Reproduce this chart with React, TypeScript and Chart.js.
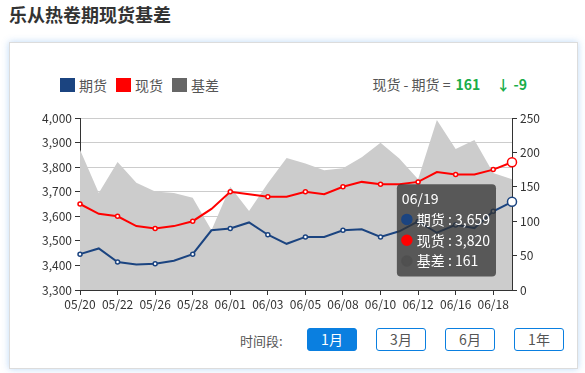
import React, { useEffect, useRef } from 'react';
import { Chart, registerables, Tooltip } from 'chart.js';

Chart.register(...registerables);

const dates = ['05/20','05/21','05/22','05/23','05/26','05/27','05/28','05/29','06/01','06/02','06/03','06/04','06/05','06/06','06/08','06/09','06/10','06/11','06/12','06/13','06/16','06/17','06/18','06/19'];
const futures = [3446,3469,3414,3404,3407,3419,3446,3543,3550,3575,3525,3488,3516,3516,3543,3547,3516,3539,3579,3533,3565,3552,3620,3659];
const spot = [3650,3610,3600,3560,3550,3560,3580,3630,3700,3690,3680,3680,3700,3690,3720,3740,3730,3730,3740,3780,3770,3770,3790,3820];
const basis = [204,141,186,156,143,141,134,87,150,115,155,192,184,174,177,193,214,191,161,247,205,218,170,161];
const periods = ['1月', '3月', '6月', '1年'];

const FUT_COLOR = '#1b4480';
const SPOT_COLOR = '#ff0000';
const BASIS_COLOR = '#666666';
const AREA_COLOR = '#cccccc';
const GREEN = '#19ad4a';
const FONT = "'Noto Sans CJK SC', 'Noto Sans', sans-serif";

(Tooltip.positioners as any).leftOfPoint = function (elements: any[]) {
  if (!elements.length) return false;
  const x = elements[0].element.x;
  let y = Infinity;
  elements.forEach((e: any) => { y = Math.min(y, e.element.y); });
  return { x: x - 20, y: y + 22 };
};

export default function App() {
  const ref = useRef<HTMLCanvasElement>(null);

  useEffect(() => {
    if (!ref.current) return;
    Chart.defaults.font.family = FONT;
    const fmt = (v: number) => Number(v).toLocaleString('en-US');
    const colors = [FUT_COLOR, SPOT_COLOR, '#505050'];
    const chart = new Chart(ref.current, {
      type: 'line',
      data: {
        labels: dates,
        datasets: [
          {
            label: '期货', data: futures, yAxisID: 'y',
            borderColor: FUT_COLOR, backgroundColor: FUT_COLOR, borderWidth: 2,
            pointRadius: (c: any) => (c.dataIndex % 2 === 0 ? 2 : 0),
            pointBackgroundColor: '#fff', pointBorderColor: FUT_COLOR, pointBorderWidth: 1.5,
            pointHoverRadius: 4.5, pointHoverBorderWidth: 1.5, pointHoverBackgroundColor: '#fff', pointHoverBorderColor: FUT_COLOR,
            tension: 0, clip: false, fill: false,
          } as any,
          {
            label: '现货', data: spot, yAxisID: 'y',
            borderColor: SPOT_COLOR, backgroundColor: SPOT_COLOR, borderWidth: 2,
            pointRadius: (c: any) => (c.dataIndex % 2 === 0 ? 2 : 0),
            pointBackgroundColor: '#fff', pointBorderColor: SPOT_COLOR, pointBorderWidth: 1.5,
            pointHoverRadius: 4.5, pointHoverBorderWidth: 1.5, pointHoverBackgroundColor: '#fff', pointHoverBorderColor: SPOT_COLOR,
            tension: 0, clip: false, fill: false,
          } as any,
          {
            label: '基差', data: basis, yAxisID: 'y1',
            borderColor: 'rgba(0,0,0,0)', backgroundColor: AREA_COLOR, borderWidth: 0,
            pointRadius: 0, pointHoverRadius: 0, tension: 0, fill: 'origin',
          } as any,
        ],
      },
      options: {
        animation: false,
        responsive: false,
        devicePixelRatio: 1,
        events: [],
        layout: { padding: { top: 13, left: 0, right: 0, bottom: 0 } },
        interaction: { mode: 'index', intersect: false },
        scales: {
          x: {
            type: 'category',
            grid: {
              drawOnChartArea: false, drawTicks: true, tickLength: 5,
              tickColor: (c: any) => (c.index % 2 === 0 ? '#333' : 'rgba(0,0,0,0)'),
            },
            border: { color: '#333', width: 1 },
            ticks: {
              autoSkip: false, maxRotation: 0, minRotation: 0, padding: 2, color: '#333',
              font: { size: 12 },
              callback: (_v: any, i: number) => (i % 2 === 0 ? dates[i] : ''),
            },
            afterFit: (s: any) => { s.height = 25; },
          },
          y: {
            position: 'left', min: 3300, max: 4000,
            ticks: { stepSize: 100, color: '#333', padding: 3, font: { size: 12 }, callback: (v: any) => fmt(v) },
            grid: { color: '#cccccc', tickColor: '#333', tickLength: 5 },
            border: { color: '#333', width: 1 },
            afterFit: (s: any) => { s.width = 70; },
          },
          y1: {
            position: 'right', min: 0, max: 250,
            ticks: { stepSize: 50, color: '#333', padding: 3, font: { size: 12 } },
            grid: { drawOnChartArea: false, tickColor: '#333', tickLength: 5 },
            border: { color: '#333', width: 1 },
            afterFit: (s: any) => { s.width = 58; },
          },
        },
        plugins: {
          legend: { display: false },
          tooltip: {
            enabled: true,
            position: 'leftOfPoint' as any,
            xAlign: 'right', yAlign: 'top',
            caretSize: 0, caretPadding: 0,
            backgroundColor: 'rgba(50,50,50,0.75)',
            cornerRadius: 4,
            padding: { left: 5, right: 6, top: 6, bottom: 7 },
            titleFont: { size: 14, weight: 'normal' },
            bodyFont: { size: 14 },
            titleColor: '#fff', bodyColor: '#fff',
            titleMarginBottom: 4, bodySpacing: 4,
            usePointStyle: true, boxWidth: 10, boxHeight: 10, boxPadding: 3,
            displayColors: true,
            multiKeyBackground: 'rgba(0,0,0,0)',
            callbacks: {
              title: (items: any[]) => dates[items[0].dataIndex],
              label: (c: any) => `${c.dataset.label} : ${fmt(c.parsed.y)}`,
              labelColor: (c: any) => ({ borderColor: colors[c.datasetIndex], backgroundColor: colors[c.datasetIndex], borderWidth: 0 }),
              labelPointStyle: () => ({ pointStyle: 'circle', rotation: 0 }),
            },
          } as any,
        },
      },
    });
    const last = dates.length - 1;
    const els = [0, 1, 2].map((d) => ({ datasetIndex: d, index: last }));
    chart.setActiveElements(els);
    chart.tooltip!.setActiveElements(els, { x: 0, y: 0 });
    chart.update();
    return () => chart.destroy();
  }, []);

  const lastBasis = basis[basis.length - 1];
  const change = lastBasis - basis[basis.length - 2];

  const legendItems = [
    { label: '期货', color: FUT_COLOR },
    { label: '现货', color: SPOT_COLOR },
    { label: '基差', color: BASIS_COLOR },
  ];

  return (
    <div style={{ position: 'fixed', left: 0, top: 0, width: 585, height: 373, background: '#fff', fontFamily: FONT, overflow: 'hidden' }}>
      <div style={{ position: 'absolute', left: 9, top: 1, fontSize: 18, fontWeight: 'bold', color: '#333', lineHeight: '26px' }}>
        乐从热卷期现货基差
      </div>
      <div style={{ position: 'absolute', left: 9, top: 42, width: 567, height: 325, border: '1px solid #dcdcdc', boxShadow: '0 0 7px rgba(60,140,230,0.35)', background: '#fff' }} />
      <div style={{ position: 'absolute', left: 60, top: 76, height: 18, display: 'flex', alignItems: 'center', fontSize: 14, color: '#555' }}>
        {legendItems.map((it, i) => (
          <div key={i} style={{ display: 'flex', alignItems: 'center', marginRight: 9 }}>
            <span style={{ display: 'inline-block', width: 15, height: 14, background: it.color, marginRight: 4 }} />
            <span style={{ lineHeight: '18px' }}>{it.label}</span>
          </div>
        ))}
      </div>
      <div style={{ position: 'absolute', right: 58, top: 75, height: 18, fontSize: 14, color: '#555', lineHeight: '18px', whiteSpace: 'nowrap' }}>
        现货 - 期货 = <span style={{ color: GREEN, fontWeight: 'bold', marginLeft: 2 }}>{lastBasis}</span>
        <span style={{ color: GREEN, fontWeight: 'bold', marginLeft: 16 }}>{change < 0 ? '↓' : '↑'} {change}</span>
      </div>
      <canvas ref={ref} width={560} height={210} style={{ position: 'absolute', left: 10, top: 105, width: 560, height: 210 }} />
      <div style={{ position: 'absolute', left: 240, top: 331, fontSize: 13, color: '#555', lineHeight: '20px' }}>时间段:</div>
      {periods.map((p, i) => (
        <div key={p} style={{
          position: 'absolute', left: 307 + i * 69, top: 328, width: 48, height: 21,
          border: '1px solid #0a7fe0', borderRadius: 3,
          background: i === 0 ? '#0a7fe0' : '#fff', color: i === 0 ? '#fff' : '#555',
          fontSize: 14, lineHeight: '21px', textAlign: 'center',
        }}>{p}</div>
      ))}
    </div>
  );
}
